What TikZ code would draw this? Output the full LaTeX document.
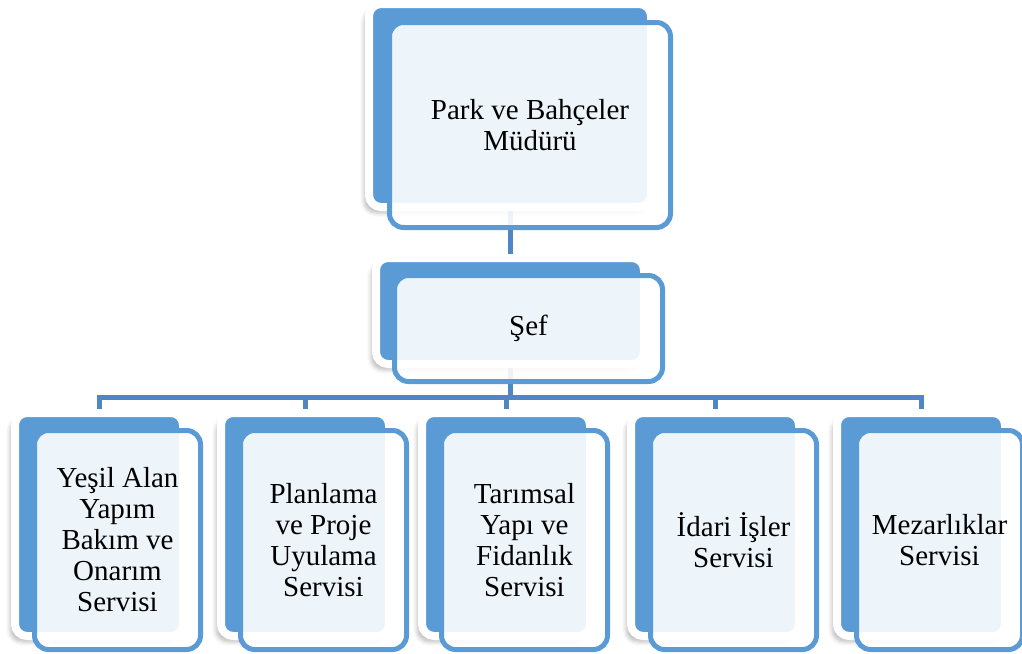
\documentclass[tikz,border=0pt]{standalone}
\usepackage{fontspec}
\setmainfont{Liberation Serif}
\usetikzlibrary{positioning,shadows,shadows.blur,backgrounds}
\definecolor{boxblue}{HTML}{5B9BD5}
\definecolor{lineblue}{HTML}{4F86C6}
\tikzset{
  backbox/.style={draw=white,line width=8pt,fill=boxblue,rounded corners=12pt,inner sep=0pt,
    blur shadow={shadow xshift=-5pt,shadow yshift=-6pt,shadow opacity=25,shadow blur radius=4pt}},
  frontbox/.style={draw=boxblue,line width=5pt,fill=white,fill opacity=0.9,text opacity=1,
    rounded corners=14pt,inner sep=0pt,align=center,font=\fontsize{29}{31}\selectfont},
  link/.style={draw=lineblue,line width=5pt}
}
\begin{document}
\begin{tikzpicture}[x=1pt,y=-1pt]
\useasboundingbox (0,0) rectangle (1022,653);

\node[backbox,minimum width=282pt,minimum height=203pt] (bkmgr) at (510,105.5) {};
\node[frontbox,minimum width=281pt,minimum height=205pt,xshift=20pt,yshift=-19.5pt] (mgr) at (bkmgr) {Park ve Bahçeler\\Müdürü};

\node[backbox,minimum width=268pt,minimum height=106pt] (bksef) at (510,311) {};
\node[frontbox,minimum width=268pt,minimum height=106pt,xshift=18.5pt,yshift=-17.5pt] (sef) at (bksef) {Şef};

\foreach \i/\x/\t in {1/99/{Yeşil Alan\\Yapım\\Bakım ve\\Onarım\\Servisi},
    2/305/{Planlama\\ve Proje\\Uyulama\\Servisi},
    3/506/{Tarımsal\\Yapı ve\\Fidanlık\\Servisi},
    4/715/{İdari İşler\\Servisi},
    5/921/{Mezarlıklar\\Servisi}}{
  \node[backbox,minimum width=168pt,minimum height=223pt] (bk\i) at (\x,524.5) {};
  \node[frontbox,minimum width=166pt,minimum height=219pt,xshift=18.5pt,yshift=-15.5pt] (sv\i) at (bk\i) {\t};
}

\coordinate (bus) at (510,397);
\begin{scope}[on background layer]
\draw[link] (bkmgr.south) -- (bksef.north);
\foreach \i in {1,...,5}
  \draw[link] (bksef.south) -- (bksef.south |- bus) -| (bk\i.north);
\end{scope}
\end{tikzpicture}
\end{document}
